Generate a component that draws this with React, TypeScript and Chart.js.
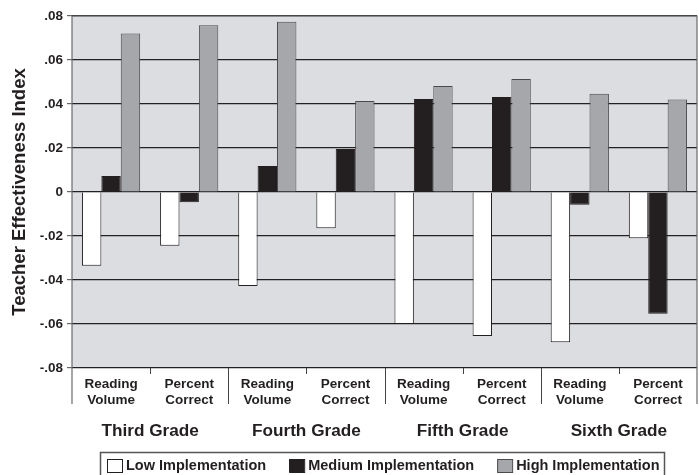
import { useEffect, useRef } from "react";
import { Chart, registerables } from "chart.js";

Chart.register(...registerables);

const subLabels: string[][] = [
  ["Reading", "Volume"], ["Percent", "Correct"],
  ["Reading", "Volume"], ["Percent", "Correct"],
  ["Reading", "Volume"], ["Percent", "Correct"],
  ["Reading", "Volume"], ["Percent", "Correct"],
];
const grades = ["Third Grade", "Fourth Grade", "Fifth Grade", "Sixth Grade"];
const seriesNames = ["Low Implementation", "Medium Implementation", "High Implementation"];
const lowValues = [-0.0335, -0.0244, -0.0427, -0.0165, -0.060, -0.0655, -0.0683, -0.021];
const mediumValues = [0.0073, -0.0047, 0.0118, 0.0195, 0.0423, 0.0432, -0.0058, -0.0553];
const highValues = [0.072, 0.0758, 0.0774, 0.0414, 0.0482, 0.0514, 0.0447, 0.0421];
const yMin = -0.08;
const yMax = 0.08;
const yStep = 0.02;

const FONT = "'Liberation Sans', Arial, Helvetica, sans-serif";
const INK = "#231f20";
const fills = ["#ffffff", "#231f20", "#a6a7aa"];
const borders = ["#231f20", "#231f20", "#4a4a4a"];

function fmt(v: number): string {
  const r = Math.round(v * 100) / 100;
  if (Math.abs(r) < 1e-9) return "0";
  const s = Math.abs(r).toFixed(2).replace(/^0/, "");
  return (r < 0 ? "-" : "") + s;
}

const decor = {
  id: "decor",
  beforeDraw(chart: any) {
    const { ctx, chartArea: a } = chart;
    ctx.save();
    ctx.fillStyle = "#dcdde0";
    ctx.fillRect(a.left, a.top, a.right - a.left, a.bottom - a.top);
    ctx.restore();
  },
  afterDraw(chart: any) {
    const { ctx, chartArea: a } = chart;
    const n = subLabels.length;
    const cw = (a.right - a.left) / n;
    const sepBottom = a.bottom + 36;
    ctx.save();
    ctx.strokeStyle = "#6b6b6b";
    ctx.lineWidth = 1.2;
    ctx.beginPath();
    ctx.moveTo(a.left, sepBottom);
    ctx.lineTo(a.left, a.top);
    ctx.lineTo(a.right, a.top);
    ctx.lineTo(a.right, sepBottom);
    ctx.stroke();
    ctx.strokeStyle = "#444";
    ctx.lineWidth = 1;
    for (let i = 1; i < n; i++) {
      const x = Math.round(a.left + i * cw) + 0.5;
      ctx.beginPath();
      ctx.moveTo(x, a.bottom);
      ctx.lineTo(x, i % 2 === 0 ? sepBottom : a.bottom + 6);
      ctx.stroke();
    }
    ctx.fillStyle = INK;
    ctx.font = `bold 17.2px ${FONT}`;
    ctx.textAlign = "center";
    ctx.textBaseline = "middle";
    grades.forEach((g, i) => {
      const x = a.left + (2 * i + 1) * cw;
      ctx.fillText(g, x, a.bottom + 63);
    });
    const boxL = 100.5, boxT = 452.5, boxR = 664.5;
    ctx.strokeStyle = "#555";
    ctx.lineWidth = 1.5;
    ctx.strokeRect(boxL, boxT, boxR - boxL, 40);
    ctx.font = `bold 14.5px ${FONT}`;
    ctx.textAlign = "left";
    let x = 107;
    const cy = 466;
    seriesNames.forEach((name, i) => {
      ctx.fillStyle = fills[i];
      ctx.fillRect(x, cy - 7, 15, 13);
      ctx.strokeStyle = borders[i];
      ctx.lineWidth = 1;
      ctx.strokeRect(x + 0.5, cy - 6.5, 15, 13);
      ctx.fillStyle = INK;
      ctx.fillText(name, x + 19, cy);
      x += 19 + ctx.measureText(name).width + 23;
    });
    ctx.restore();
  },
};

export default function App() {
  const ref = useRef<HTMLCanvasElement | null>(null);
  useEffect(() => {
    if (!ref.current) return;
    const seriesValues = [lowValues, mediumValues, highValues];
    const chart = new Chart(ref.current, {
      type: "bar",
      data: {
        labels: subLabels,
        datasets: seriesNames.map((name, i) => ({
          label: name,
          data: seriesValues[i],
          backgroundColor: fills[i],
          borderColor: borders[i],
          borderWidth: 1,
          barPercentage: 1,
          categoryPercentage: 0.745,
        })),
      },
      options: {
        animation: false,
        responsive: false,
        devicePixelRatio: 1,
        layout: { padding: { top: 16, right: 2, left: 0, bottom: 0 } },
        plugins: { legend: { display: false }, tooltip: { enabled: false } },
        scales: {
          x: {
            grid: { display: false },
            border: { display: false },
            ticks: {
              color: INK,
              padding: 1,
              maxRotation: 0,
              autoSkip: false,
              font: { family: FONT, size: 13.5, weight: "bold", lineHeight: 1.15 },
            },
            afterFit(scale: any) { scale.height = 107; },
          },
          y: {
            min: yMin,
            max: yMax,
            border: { display: false },
            grid: { color: "#222", lineWidth: 1.2, tickColor: "#666", tickLength: 5 },
            ticks: {
              stepSize: yStep,
              color: INK,
              padding: 4,
              font: { family: FONT, size: 13.5, weight: "bold" },
              callback: (v: any) => fmt(Number(v)),
            },
            title: {
              display: true,
              text: "Teacher Effectiveness Index",
              color: INK,
              padding: { top: 9, bottom: 0 },
              font: { family: FONT, size: 18.5, weight: "bold" },
            },
            afterFit(scale: any) { scale.width = 72; },
          },
        },
      },
      plugins: [decor],
    } as any);
    return () => chart.destroy();
  }, []);
  return (
    <div style={{ position: "fixed", left: 0, top: 0, width: 699, height: 475, background: "#fff" }}>
      <canvas ref={ref} width={699} height={475} style={{ width: 699, height: 475, display: "block" }} />
    </div>
  );
}
